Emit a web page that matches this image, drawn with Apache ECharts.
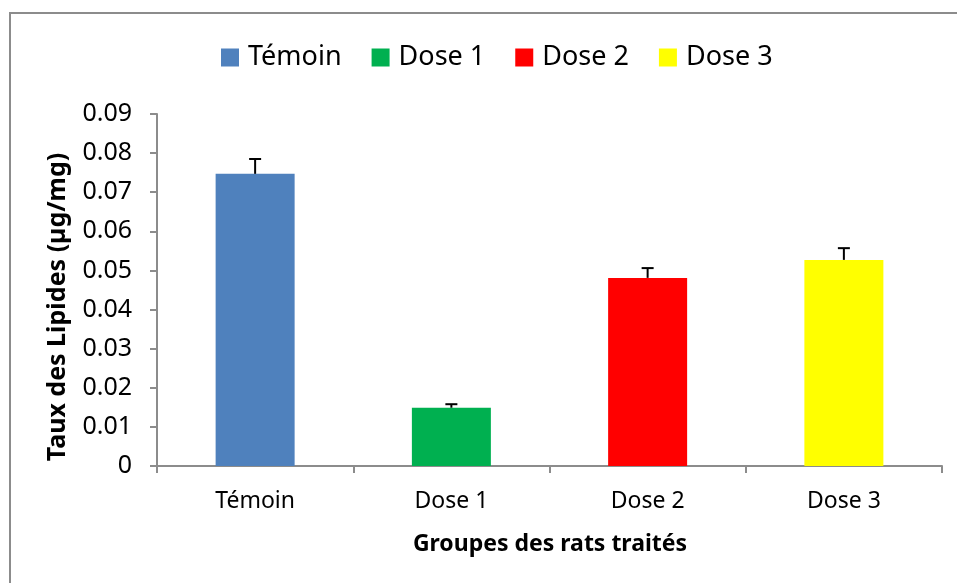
<!DOCTYPE html>
<html>
<head>
<meta charset="utf-8">
<script src="https://cdn.jsdelivr.net/npm/echarts@6/dist/echarts.min.js"></script>
<style>html,body{margin:0;padding:0;background:#fff}#c{width:957px;height:583px}</style>
</head>
<body>
<div id="c"></div>
<script>
const categories = ['Témoin', 'Dose 1', 'Dose 2', 'Dose 3'];
const seriesNames = ['Témoin', 'Dose 1', 'Dose 2', 'Dose 3'];
const values = [0.0747, 0.0149, 0.0481, 0.0527];
const errors = [0.0038, 0.0009, 0.0025, 0.0030];
const colors = ['#4f81bd', '#00b050', '#ff0000', '#ffff00'];
const yTicks = [0, 0.01, 0.02, 0.03, 0.04, 0.05, 0.06, 0.07, 0.08, 0.09];

const FONT = '"Noto Sans", sans-serif';
const chart = echarts.init(document.getElementById('c'));

const barSeries = seriesNames.map((name, i) => ({
  name: name,
  type: 'bar',
  stack: 'all',
  barWidth: 79,
  itemStyle: { color: colors[i] },
  data: categories.map((c, j) => (j === i ? values[i] : '-'))
}));

const errSeries = {
  type: 'custom',
  silent: true,
  z: 5,
  data: values.map((v, i) => [i, v, v + errors[i]]),
  renderItem: function (params, api) {
    const x = api.coord([api.value(0), api.value(1)]);
    const y2 = api.coord([api.value(0), api.value(2)]);
    const half = 6;
    return {
      type: 'group',
      children: [
        { type: 'line', shape: { x1: x[0], y1: x[1], x2: x[0], y2: y2[1] }, style: { stroke: '#000', lineWidth: 2 } },
        { type: 'line', shape: { x1: x[0] - half, y1: y2[1], x2: x[0] + half, y2: y2[1] }, style: { stroke: '#000', lineWidth: 2 } }
      ]
    };
  }
};

chart.setOption({
  animation: false,
  backgroundColor: '#fff',
  textStyle: { fontFamily: FONT },
  graphic: [
    { type: 'rect', shape: { x: 10, y: 13, width: 960, height: 590 }, style: { fill: 'none', stroke: '#8c8c8c', lineWidth: 2 }, z: -1 },
    { type: 'text', x: 58, y: 307, rotation: Math.PI / 2, style: { text: 'Taux des Lipides (µg/mg)', fontSize: 25, fontWeight: 'bold', fontFamily: FONT, fill: '#000', align: 'center', verticalAlign: 'middle' } },
    { type: 'text', x: 550, y: 544, style: { text: 'Groupes des rats traités', fontSize: 23, fontWeight: 'bold', fontFamily: FONT, fill: '#000', align: 'center', verticalAlign: 'middle' } }
  ],
  legend: {
    top: 39,
    left: 216,
    itemWidth: 18,
    itemHeight: 18,
    itemGap: 30,
    icon: 'rect',
    textStyle: { fontSize: 27, color: '#000', fontFamily: FONT, padding: [0, 0, 0, 4] },
    data: seriesNames
  },
  grid: { left: 157, right: 15, top: 114, bottom: 117 },
  xAxis: {
    type: 'category',
    data: categories,
    axisLine: { lineStyle: { color: '#8c8c8c', width: 2 } },
    axisTick: { show: true, length: 7, lineStyle: { color: '#8c8c8c', width: 2 } },
    axisLabel: { color: '#000', fontSize: 23, margin: 24, fontFamily: FONT },
    splitLine: { show: false }
  },
  yAxis: {
    type: 'value',
    min: 0,
    max: 0.09,
    interval: 0.01,
    axisLine: { show: true, lineStyle: { color: '#8c8c8c', width: 2 } },
    axisTick: { show: true, length: 7, lineStyle: { color: '#8c8c8c', width: 2 } },
    axisLabel: {
      color: '#000', fontSize: 25, margin: 25, fontFamily: FONT,
      formatter: function (v) {
        const idx = yTicks.findIndex(t => Math.abs(t - v) < 1e-9);
        const t = idx >= 0 ? yTicks[idx] : v;
        return t === 0 ? '0' : t.toFixed(2);
      }
    },
    splitLine: { show: false }
  },
  series: barSeries.concat([errSeries])
});
</script>
</body>
</html>
